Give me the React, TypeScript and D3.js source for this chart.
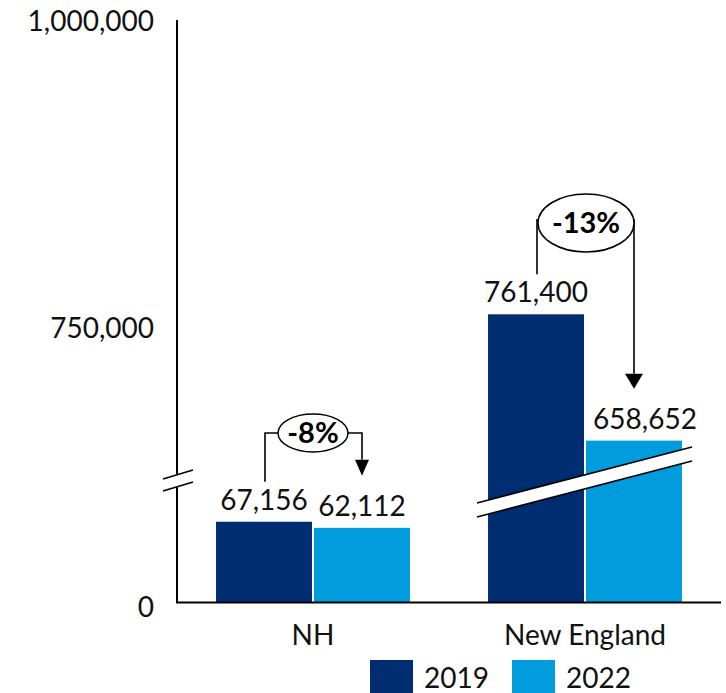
import React from "react";
import * as d3 from "d3";

const categories = ["NH", "New England"];
const seriesNames = ["2019", "2022"];
const values2019 = [67156, 761400];
const values2022 = [62112, 658652];
const changeLabels = ["-8%", "-13%"];
const yTicks = [0, 750000, 1000000];
const colors = ["#002D72", "#009CDE"];

const W = 726;
const H = 693;
const FONT = "Lato, 'Open Sans', sans-serif";
const FS = 28;

export default function App() {
  const x0 = 177;
  const x1 = 721;
  const yBase = 603;
  const yBreak = 482;
  const yTop = 21;

  const xCat = d3
    .scaleBand<string>()
    .domain(categories)
    .range([x0, x1])
    .paddingInner(0.287)
    .paddingOuter(0.1435);
  const xSer = d3
    .scaleBand<string>()
    .domain(seriesNames)
    .range([0, xCat.bandwidth()])
    .paddingInner(0.0206);

  const yLow = d3.scaleLinear().domain([0, 100000]).range([yBase, yBreak]);
  const yHigh = d3.scaleLinear().domain([625000, 1000000]).range([yBreak, yTop]);
  const y = (v: number) => (v <= 100000 ? yLow(v) : yHigh(v));
  const fmt = d3.format(",");

  const series = [values2019, values2022];
  const labelDx = [
    [0, 0],
    [0, 11],
  ];

  const bars: JSX.Element[] = [];
  const labels: JSX.Element[] = [];
  categories.forEach((c, ci) => {
    seriesNames.forEach((s, si) => {
      const v = series[si][ci];
      const bx = (xCat(c) as number) + (xSer(s) as number);
      const bw = xSer.bandwidth();
      bars.push(
        <rect key={`b${ci}${si}`} x={bx} y={y(v)} width={bw} height={yBase - y(v)} fill={colors[si]} />
      );
      labels.push(
        <text
          key={`l${ci}${si}`}
          x={bx + bw / 2 + labelDx[ci][si]}
          y={y(v) - 12}
          textAnchor="middle"
          fontSize={FS}
          fontFamily={FONT}
          fill="#111"
        >
          {fmt(v)}
        </text>
      );
    });
  });

  const annots = categories.map((c, ci) => {
    const v1 = values2019[ci];
    const v2 = values2022[ci];
    const startY = y(v1) - 40;
    const big = ci === 1;
    const ex = big ? 586 : 313;
    const ey = big ? 223 : 433;
    const rx = big ? 48 : 35;
    const ry = big ? 29 : 19;
    const rightX = big ? 634 : 362;
    const leftX = big ? 537 : 265;
    const tipY = y(v2) - 52;
    const ah = big ? 15 : 16;
    const aw = big ? 9 : 7;
    let path: string;
    if (big) {
      path = `M${leftX},${startY} L${leftX},${ey - 4} M${rightX},${ey - 4} L${rightX},${tipY - ah}`;
    } else {
      path = `M${leftX},${startY} L${leftX},${ey} L${ex - rx},${ey} M${ex + rx},${ey} L${rightX},${ey} L${rightX},${tipY - ah}`;
    }
    return (
      <g key={`a${ci}`}>
        <path d={path} fill="none" stroke="#000" strokeWidth={1.6} />
        <path d={`M${rightX - aw},${tipY - ah} L${rightX + aw},${tipY - ah} L${rightX},${tipY} Z`} fill="#000" />
        <ellipse cx={ex} cy={ey} rx={rx} ry={ry} fill="#fff" stroke="#000" strokeWidth={1.5} />
        <text
          x={ex}
          y={ey + 10}
          textAnchor="middle"
          fontSize={29}
          fontWeight="bold"
          fontFamily={FONT}
          fill="#000"
        >
          {changeLabels[ci]}
        </text>
      </g>
    );
  });

  const bandX0 = 477;
  const bandX1 = 692;
  const bandYL = 503;
  const bandYR = 447;
  const bandT = 14;

  return (
    <svg width={W} height={H} style={{ position: "absolute", left: 0, top: 0 }}>
      <rect width={W} height={H} fill="#fff" />
      {bars}
      <polygon
        points={`${bandX0},${bandYL} ${bandX1},${bandYR} ${bandX1},${bandYR + bandT} ${bandX0},${bandYL + bandT}`}
        fill="#fff"
      />
      <line x1={bandX0} y1={bandYL} x2={bandX1} y2={bandYR} stroke="#000" strokeWidth={1.6} />
      <line x1={bandX0} y1={bandYL + bandT} x2={bandX1} y2={bandYR + bandT} stroke="#000" strokeWidth={1.6} />
      {labels}
      {annots}
      <line x1={x0} y1={yTop - 1} x2={x0} y2={474} stroke="#000" strokeWidth={2} />
      <line x1={x0} y1={487} x2={x0} y2={yBase} stroke="#000" strokeWidth={2} />
      <line x1={163} y1={479} x2={193} y2={470} stroke="#000" strokeWidth={1.6} />
      <line x1={163} y1={491} x2={193} y2={482} stroke="#000" strokeWidth={1.6} />
      <line x1={x0 - 1} y1={yBase - 0.5} x2={x1} y2={yBase - 0.5} stroke="#000" strokeWidth={2} />
      {yTicks.map((t) => (
        <text
          key={`t${t}`}
          x={154}
          y={y(t) + 10 + (t === 0 ? 4 : 0)}
          textAnchor="end"
          fontSize={FS}
          fontFamily={FONT}
          fill="#111"
        >
          {fmt(t)}
        </text>
      ))}
      {categories.map((c) => (
        <text
          key={`c${c}`}
          x={(xCat(c) as number) + xCat.bandwidth() / 2}
          y={645}
          textAnchor="middle"
          fontSize={FS}
          fontFamily={FONT}
          fill="#111"
        >
          {c}
        </text>
      ))}
      {seriesNames.map((s, i) => {
        const lx = i === 0 ? 370 : 512;
        return (
          <g key={`lg${s}`}>
            <rect x={lx} y={660} width={43} height={33} fill={colors[i]} />
            <text x={lx + 54} y={688} fontSize={FS} fontFamily={FONT} fill="#111">
              {s}
            </text>
          </g>
        );
      })}
    </svg>
  );
}
